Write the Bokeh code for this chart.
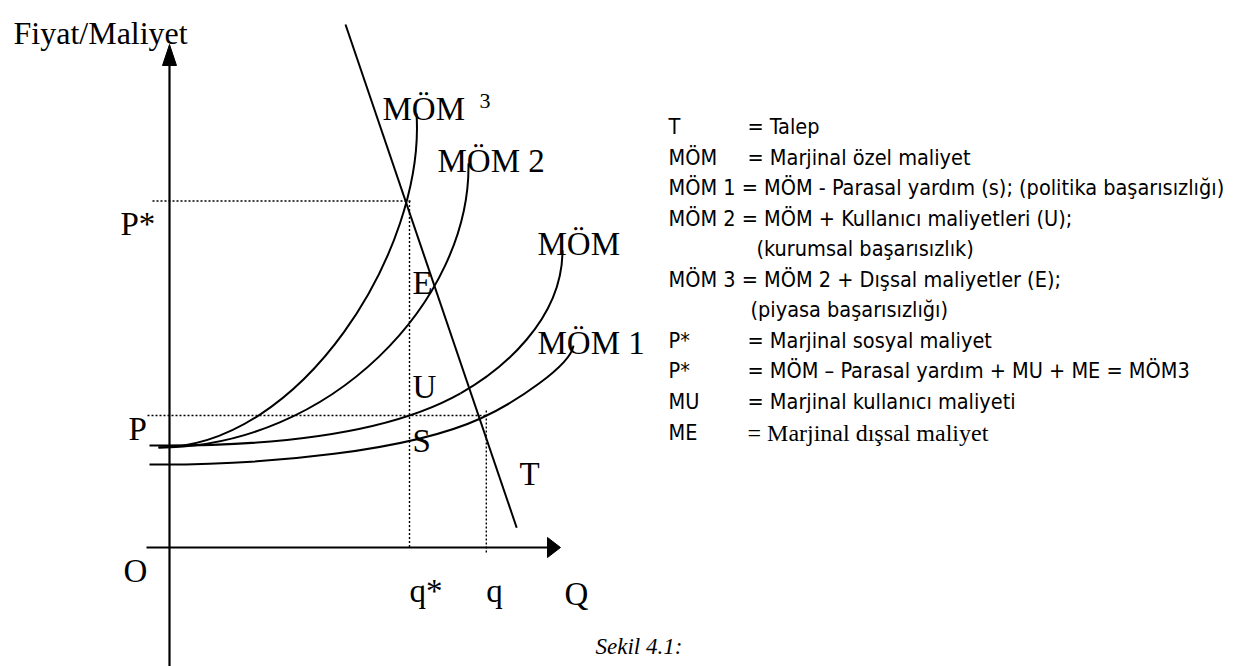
from bokeh.plotting import figure
from bokeh.models import Range1d
from bokeh.embed import file_html
from bokeh.resources import INLINE
from bokeh.core.properties import value

# ---------------- data (chart units: Q = quantity, P = price / cost) -------------
Q_STAR = 6.0      # q*
Q_MKT = 7.92      # q
P_STAR = 10.5     # P*
P_MKT = 4.0       # P

# demand line T (two end points)
T_Q = [4.4, 8.68]
T_P = [15.85, 0.6]

# cost curves as chained cubic Bezier points: start, ctrl, ctrl, end[, ctrl, ctrl, end]
MOM3_Q = [-0.275, 3.275, 6.4, 6.175]
MOM3_P = [3.03, 3.03, 9.0, 13.15]

MOM2_Q = [-0.275, 4.025, 7.525, 7.475]
MOM2_P = [3.03, 3.03, 7.485, 11.64]

MOM_Q = [-0.5, 2.025, 5.275, 7.275, 8.275, 9.825, 9.825]
MOM_P = [3.09, 3.06, 3.3, 4.67, 5.35, 6.88, 9.0]

MOM1_Q = [-0.5, 2.525, 6.025, 7.775, 8.65, 10.025, 10.1]
MOM1_P = [2.515, 2.485, 2.94, 3.91, 4.39, 5.515, 6.12]

CURVE_LABELS = ["MÖM", "MÖM 2", "MÖM", "MÖM 1"]
POINT_LABELS = ["E", "U", "S", "T"]
AXIS_LABELS = ["P*", "P", "O", "q*", "q", "Q"]

LEGEND_KEYS = ["T", "MÖM", "MÖM 1 = MÖM - Parasal yardım (s); (politika başarısızlığı)",
               "MÖM 2 = MÖM + Kullanıcı maliyetleri (U);", "",
               "MÖM 3 = MÖM 2 + Dışsal maliyetler (E);", "",
               "P*", "P*", "MU", "ME"]
LEGEND_DESC = ["= Talep", "= Marjinal özel maliyet", "", "",
               "(kurumsal başarısızlık)", "", "(piyasa başarısızlığı)",
               "= Marjinal sosyal maliyet",
               "= MÖM – Parasal yardım + MU + ME = MÖM3",
               "= Marjinal kullanıcı maliyeti", ""]
LEGEND_SERIF_DESC = "= Marjinal dışsal maliyet"

# ---------------- layout ----------------
W, H = 1247, 666
OX, OY = 169, 547          # pixel position of the origin O
SX, SY = 40.0, 33.0        # pixels per unit
p = figure(width=W, height=H,
           x_range=Range1d(-OX / SX, (W - OX) / SX),
           y_range=Range1d((OY - H) / SY, OY / SY),
           x_axis_type=None, y_axis_type=None, toolbar_location=None, output_backend="svg",
           min_border=0, outline_line_color=None)
p.background_fill_color = "white"
p.border_fill_color = "white"


def qx(px):
    return (px - OX) / SX


def py(pix):
    return (OY - pix) / SY


SERIF = value("Liberation Serif")
SANS = value("'DejaVu Sans Condensed', 'Liberation Sans', sans-serif")

# axes with arrow heads
px_q = 1 / SX
px_p = 1 / SY
y_tip = py(44)
x_tip = qx(560)
p.segment(x0=[0, qx(146)], y0=[py(680), 0], x1=[0, x_tip - 10 * px_q], y1=[y_tip - 18 * px_p, 0],
          line_color="black", line_width=2.2)
p.patches(xs=[[0, -7 * px_q, 7 * px_q], [x_tip, x_tip - 13 * px_q, x_tip - 13 * px_q]],
          ys=[[y_tip, y_tip - 21 * px_p, y_tip - 21 * px_p], [0, 10 * px_p, -10 * px_p]],
          fill_color="black", line_color="black", line_width=1)

# dotted guide lines
p.segment(x0=[qx(152), qx(147), Q_STAR, Q_MKT],
          y0=[P_STAR, P_MKT, P_STAR, P_MKT + 5 * px_p],
          x1=[Q_STAR + 3 * px_q, Q_MKT + px_q, Q_STAR, Q_MKT],
          y1=[P_STAR, P_MKT, -px_p, -5 * px_p],
          line_color="black", line_width=1.4, line_dash="2 2")

# demand
p.line(T_Q, T_P, line_color="black", line_width=2)


def draw_bezier(qs, ps):
    x0, y0, cx0, cy0, cx1, cy1, x1, y1 = ([] for _ in range(8))
    for i in range(0, len(qs) - 1, 3):
        x0.append(qs[i]); y0.append(ps[i])
        cx0.append(qs[i + 1]); cy0.append(ps[i + 1])
        cx1.append(qs[i + 2]); cy1.append(ps[i + 2])
        x1.append(qs[i + 3]); y1.append(ps[i + 3])
    p.bezier(x0=x0, y0=y0, x1=x1, y1=y1, cx0=cx0, cy0=cy0, cx1=cx1, cy1=cy1,
             line_color="black", line_width=2)


for qs, ps in [(MOM3_Q, MOM3_P), (MOM2_Q, MOM2_P), (MOM_Q, MOM_P), (MOM1_Q, MOM1_P)]:
    draw_bezier(qs, ps)

LBL = dict(text_font=SERIF, text_baseline="alphabetic", text_color="black")
# chart labels (serif)
p.text(x=[qx(382), qx(437), qx(537), qx(537)], y=[py(108), py(160), py(243), py(342)],
       text=CURVE_LABELS, text_font_size="33px", **LBL)
p.text(x=[qx(479)], y=[py(100)], text=["3"], text_font_size="22px", **LBL)
p.text(x=[qx(412), qx(412), qx(412), qx(519)], y=[py(282), py(386), py(440), py(473)],
       text=POINT_LABELS, text_font_size="33px", **LBL)
p.text(x=[qx(120), qx(128), qx(123), Q_STAR, Q_MKT, qx(564)],
       y=[py(223), py(428), py(570), py(590), py(590), py(593)],
       text=AXIS_LABELS, text_font_size="33px", **LBL)
p.text(x=[qx(13)], y=[py(32)], text=["Fiyat/Maliyet"], text_font_size="32px", **LBL)
p.text(x=[qx(595)], y=[py(646)], text=["Sekil 4.1:"], text_font_size="23px",
       text_font_style="italic", **LBL)

# legend block
row_y_px = [126, 157, 187, 218, 248, 279, 309, 340, 370, 401, 432]
desc_x_px = [747, 747, 0, 0, 756, 0, 750, 747, 747, 747, 0]
kx, ky, kt = [], [], []
dx, dy, dt = [], [], []
for i, (k, d) in enumerate(zip(LEGEND_KEYS, LEGEND_DESC)):
    if k:
        kx.append(qx(668)); ky.append(py(row_y_px[i])); kt.append(k)
    if d:
        dx.append(qx(desc_x_px[i])); dy.append(py(row_y_px[i])); dt.append(d)
p.text(x=kx, y=ky, text=kt, text_font=SANS, text_font_size="21.5px", text_baseline="middle",
       text_color="black")
p.text(x=dx, y=dy, text=dt, text_font=SANS, text_font_size="21.5px", text_baseline="middle",
       text_color="black")
p.text(x=[qx(747)], y=[py(row_y_px[10])], text=[LEGEND_SERIF_DESC], text_font=SERIF,
       text_font_size="24px", text_baseline="middle", text_color="black")

open("out.html", "w").write(file_html(p, INLINE))
